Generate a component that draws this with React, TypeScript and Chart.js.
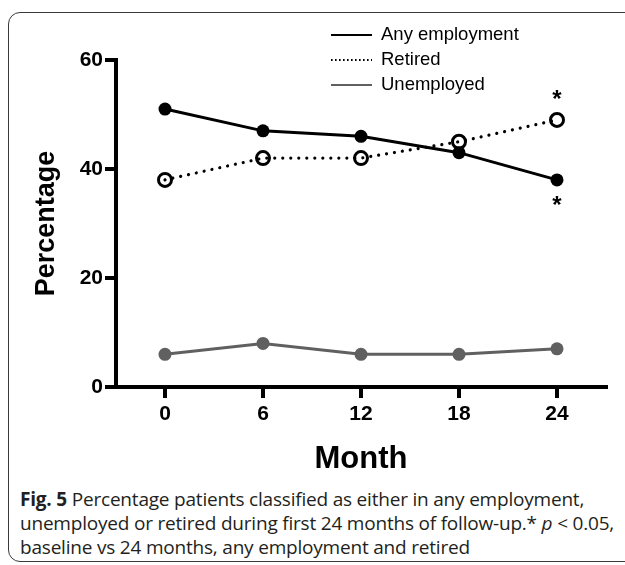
import React, { useEffect, useRef } from "react";
import { Chart, registerables } from "chart.js";

Chart.register(...registerables);

// ---- data ----
const months = ["0", "6", "12", "18", "24"];
const anyEmployment = [51, 47, 46, 43, 38];
const retired = [38, 42, 42, 45, 49];
const unemployed = [6, 8, 6, 6, 7];
const seriesLabels = ["Any employment", "Retired", "Unemployed"];
const yTickValues = [0, 20, 40, 60];
const xTitle = "Month";
const yTitle = "Percentage";
// significance stars: dataset index, point index, drawn above (true) or below (false)
const starDatasets = [1, 0];
const starIndexes = [4, 4];
const starAbove = [true, false];

const FONT = "'Liberation Sans', Arial, Helvetica, sans-serif";

const overlayPlugin = {
  id: "overlay",
  afterDraw(chart: any) {
    const ctx = chart.ctx;
    ctx.save();
    // legend
    const rowY = [35, 60, 85];
    chart.data.datasets.forEach((ds: any, i: number) => {
      const y = rowY[i];
      ctx.beginPath();
      ctx.strokeStyle = ds.borderColor;
      ctx.lineWidth = 2;
      if (ds.borderDash && ds.borderDash.length) {
        ctx.setLineDash([1.6, 2.4]);
        ctx.lineCap = "butt";
      } else {
        ctx.setLineDash([]);
      }
      ctx.moveTo(331, y);
      ctx.lineTo(372, y);
      ctx.stroke();
      ctx.setLineDash([]);
      ctx.fillStyle = "#000";
      ctx.font = `18.5px ${FONT}`;
      ctx.textBaseline = "middle";
      ctx.textAlign = "left";
      ctx.fillText(ds.label, 381, y);
    });
    // stars
    ctx.font = `bold 24px ${FONT}`;
    ctx.textAlign = "center";
    ctx.textBaseline = "middle";
    starDatasets.forEach((d, k) => {
      const meta = chart.getDatasetMeta(d);
      const pt = meta.data[starIndexes[k]];
      if (!pt) return;
      const dy = starAbove[k] ? -20 : 26;
      ctx.fillText("*", pt.x, pt.y + dy);
    });
    ctx.restore();
  },
};

function ChartCanvas() {
  const ref = useRef<HTMLCanvasElement | null>(null);
  useEffect(() => {
    if (!ref.current) return;
    const chart = new Chart(ref.current, {
      type: "line",
      data: {
        labels: months,
        datasets: [
          {
            label: seriesLabels[0],
            data: anyEmployment,
            borderColor: "#000",
            backgroundColor: "#000",
            borderWidth: 3,
            pointRadius: 6.5,
            pointBorderWidth: 0,
            pointBackgroundColor: "#000",
            tension: 0,
          },
          {
            label: seriesLabels[1],
            data: retired,
            borderColor: "#000",
            backgroundColor: "#000",
            borderWidth: 3.2,
            borderDash: [0.01, 8],
            borderCapStyle: "round",
            pointRadius: 6.5,
            pointBorderWidth: 3,
            pointBorderColor: "#000",
            pointBackgroundColor: "rgba(0,0,0,0)",
            tension: 0,
          },
          {
            label: seriesLabels[2],
            data: unemployed,
            borderColor: "#606060",
            backgroundColor: "#606060",
            borderWidth: 3,
            pointRadius: 6.5,
            pointBorderWidth: 0,
            pointBackgroundColor: "#606060",
            tension: 0,
          },
        ],
      },
      options: {
        animation: false,
        responsive: false,
        maintainAspectRatio: false,
        events: [],
        layout: { padding: { top: 60, right: 19, left: 0, bottom: 0 } },
        plugins: {
          legend: { display: false },
          tooltip: { enabled: false },
          title: { display: false },
        },
        scales: {
          x: {
            type: "category",
            offset: true,
            grid: {
              offset: false,
              drawOnChartArea: false,
              drawTicks: true,
              tickLength: 11,
              lineWidth: 4,
              color: "#000",
            },
            border: { display: true, color: "#000", width: 4 },
            ticks: {
              color: "#000",
              font: { family: FONT, size: 21, weight: "bold" },
              padding: 4,
              maxRotation: 0,
            },
            title: {
              display: true,
              text: xTitle,
              color: "#000",
              font: { family: FONT, size: 31, weight: "bold" },
              padding: { top: 0, bottom: 2 },
            },
            afterFit(scale: any) {
              scale.height = 93;
            },
          },
          y: {
            min: 0,
            max: 60,
            afterBuildTicks(scale: any) {
              scale.ticks = yTickValues.map((v) => ({ value: v }));
            },
            grid: {
              drawOnChartArea: false,
              drawTicks: true,
              tickLength: 11,
              lineWidth: 4,
              color: "#000",
            },
            border: { display: true, color: "#000", width: 4 },
            ticks: {
              color: "#000",
              font: { family: FONT, size: 21, weight: "bold" },
              padding: 2,
            },
            title: {
              display: true,
              text: yTitle,
              color: "#000",
              font: { family: FONT, size: 27, weight: "bold" },
              padding: { top: 30, bottom: 0 },
            },
            afterFit(scale: any) {
              scale.width = 116;
            },
          },
        },
      },
      plugins: [overlayPlugin],
    } as any);
    return () => chart.destroy();
  }, []);
  return (
    <canvas
      ref={ref}
      width={625}
      height={480}
      style={{ position: "absolute", left: 0, top: 0, width: 625, height: 480 }}
    />
  );
}

export default function App() {
  return (
    <div
      style={{
        position: "fixed",
        left: 0,
        top: 0,
        width: 625,
        height: 565,
        background: "#fff",
        overflow: "hidden",
      }}
    >
      <div
        style={{
          position: "absolute",
          left: 8,
          top: 12,
          width: 700,
          height: 550,
          border: "1.5px solid #3a3a3a",
          borderRadius: 12,
          boxSizing: "border-box",
        }}
      />
      <ChartCanvas />
      <div
        style={{
          position: "absolute",
          left: 20,
          top: 487,
          fontFamily: "'Open Sans', 'Noto Sans', sans-serif",
          fontSize: 19,
          lineHeight: "24px",
          letterSpacing: "-0.2px",
          color: "#231f20",
          whiteSpace: "nowrap",
        }}
      >
        <b>Fig. 5</b> Percentage patients classified as either in any employment,
        <br />
        unemployed or retired during first 24 months of follow-up.* <i>p</i> &lt; 0.05,
        <br />
        baseline vs 24 months, any employment and retired
      </div>
    </div>
  );
}
